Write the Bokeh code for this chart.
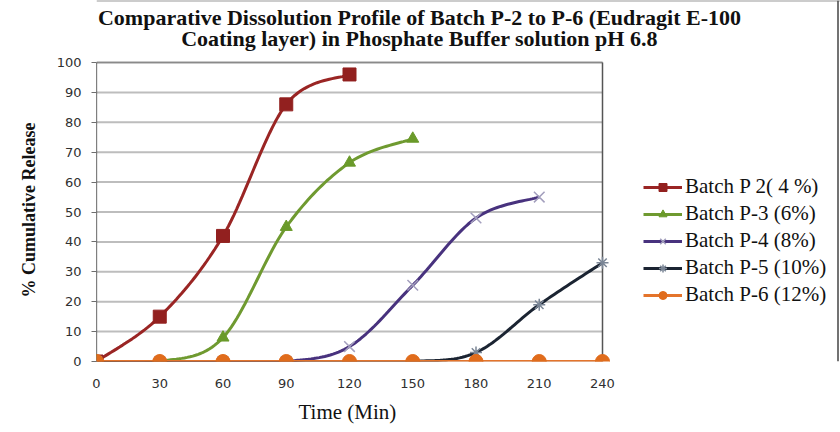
import numpy as np
from bokeh.plotting import figure
from bokeh.models import Legend, LegendItem, FixedTicker, Range1d, Title, Label, Span
from bokeh.embed import file_html
from bokeh.resources import INLINE

# ---- data ----
time = [0, 30, 60, 90, 120, 150, 180, 210, 240]
p2_time = [0, 30, 60, 90, 120]
p2_vals = [0, 15, 42, 86, 96]
p3_time = [0, 30, 60, 90, 120, 150]
p3_vals = [0, 0, 8, 45, 66.5, 74.5]
p4_time = [0, 30, 60, 90, 120, 150, 180, 210]
p4_vals = [0, 0, 0, 0, 5, 25.5, 48, 55]
p5_time = [0, 30, 60, 90, 120, 150, 180, 210, 240]
p5_vals = [0, 0, 0, 0, 0, 0, 3, 19, 33]
p6_time = [0, 30, 60, 90, 120, 150, 180, 210, 240]
p6_vals = [0, 0, 0, 0, 0, 0, 0, 0, 0]
y_ticks = [0, 10, 20, 30, 40, 50, 60, 70, 80, 90, 100]

labels = ["Batch P 2( 4 %)", "Batch P-3 (6%)", "Batch P-4 (8%)",
          "Batch P-5 (10%)", "Batch P-6 (12%)"]
title_1 = "Comparative Dissolution Profile of Batch P-2 to P-6 (Eudragit E-100"
title_2 = "Coating layer) in Phosphate Buffer solution pH 6.8"
x_label = "Time (Min)"
y_label = "% Cumulative Release"


def smooth(xs, ys, n=24):
    """Excel-like smoothed line (cubic Bezier through the points)."""
    pts = np.column_stack([np.asarray(xs, float), np.asarray(ys, float) * 2.4])
    out = []
    m = len(pts)
    for i in range(m - 1):
        q0 = pts[i - 1] if i > 0 else pts[i]
        q1, q2 = pts[i], pts[i + 1]
        q3 = pts[i + 2] if i + 2 < m else pts[i + 1]
        c1 = q1 + (q2 - q0) / 6.0
        c2 = q2 - (q3 - q1) / 6.0
        t = np.linspace(0, 1, n)[:, None]
        seg = ((1 - t) ** 3) * q1 + 3 * ((1 - t) ** 2) * t * c1 + 3 * (1 - t) * t ** 2 * c2 + t ** 3 * q2
        if i > 0:
            seg = seg[1:]
        out.append(seg)
    a = np.vstack(out)
    return a[:, 0], a[:, 1] / 2.4


W, H = 840, 432
PLOT_L, PLOT_R = 96, 602      # pixel extent of the 0..240 axis
PLOT_T, PLOT_B = 62, 361      # pixel extent of the 0..100 axis
# the frame reaches the right and top edges, leaving room for legend and titles
x_end = time[-1] * (W - PLOT_L) / (PLOT_R - PLOT_L)
y_end = y_ticks[-1] * PLOT_B / (PLOT_B - PLOT_T)

p = figure(width=W, height=H, output_backend="svg", toolbar_location=None,
           x_range=Range1d(0, x_end), y_range=Range1d(0, y_end),
           min_border_left=PLOT_L, min_border_right=0, min_border_top=0,
           min_border_bottom=H - PLOT_B)

p.background_fill_color = "white"
p.border_fill_color = "white"
p.outline_line_color = None
p.xgrid.grid_line_color = None
p.ygrid.grid_line_color = None

# picture border (top and right edges)
p.add_layout(Span(location=y_end, dimension="width", line_color="#9a9a9a", line_width=2))
p.add_layout(Span(location=time[-1] * (W - 2.5 - PLOT_L) / (PLOT_R - PLOT_L),
                  dimension="height", line_color="#444444", line_width=1.5))

# horizontal gridlines limited to the plot area, and the plot-area border
n = len(y_ticks)
p.segment(x0=[time[0]] * n, x1=[time[-1]] * n, y0=y_ticks, y1=y_ticks,
          line_color="#bdbdbd", line_width=2)
p.segment(x0=[time[0]], x1=[time[-1]], y0=[y_ticks[-1]], y1=[y_ticks[-1]],
          line_color="#8a8a8a", line_width=1.5)
p.segment(x0=[time[-1]], x1=[time[-1]], y0=[y_ticks[0]], y1=[y_ticks[-1]],
          line_color="#555555", line_width=1.5)
p.segment(x0=[time[0]], x1=[time[0]], y0=[y_ticks[0]], y1=[y_ticks[-1]],
          line_color="black", line_width=1.2)

p.xaxis.ticker = FixedTicker(ticks=time)
p.yaxis.ticker = FixedTicker(ticks=y_ticks)
for ax in (p.xaxis, p.yaxis):
    ax.major_label_text_font = "DejaVu Sans"
    ax.major_label_text_font_size = "13px"
    ax.major_label_text_color = "#303030"
    ax.minor_tick_line_color = None
    ax.axis_line_color = None
p.xaxis.major_tick_line_color = None
p.xaxis.major_label_standoff = 11
p.yaxis.major_tick_line_color = "#6e6e6e"
p.yaxis.major_tick_out = 5
p.yaxis.major_tick_in = 0
p.yaxis.major_label_standoff = 10

series = [
    (p2_time, p2_vals, "#9a2524", "square", "#92201f", 13),
    (p3_time, p3_vals, "#6f9a30", "triangle", "#6a9a2a", 12),
    (p4_time, p4_vals, "#48327e", "x", "#a39fbd", 15),
    (p5_time, p5_vals, "#1b2432", "asterisk", "#7b8696", 12),
    (p6_time, p6_vals, "#e4742b", "circle", "#e06c1c", 14),
]

items = []
for (xs, ys, lc, mk, mc, ms), lab in zip(series, labels):
    sx, sy = smooth(xs, ys)
    r1 = p.line(sx, sy, line_color=lc, line_width=3)
    if mk in ("x", "asterisk"):
        r2 = p.scatter(xs, ys, marker=mk, size=ms, line_color=mc, line_width=1.5)
    else:
        r2 = p.scatter(xs, ys, marker=mk, size=ms, fill_color=mc, line_color=mc)
    items.append(LegendItem(label=lab, renderers=[r1, r2]))

legend = Legend(items=items, location=(547, 54),
                label_text_font="Liberation Serif", label_text_font_size="21px",
                label_text_color="#111111",
                glyph_width=39, glyph_height=20, label_standoff=3, spacing=2,
                padding=0, margin=0, border_line_alpha=0, background_fill_alpha=0)
p.add_layout(legend, "center")

# two-line chart title (screen units from the frame's bottom-left corner)
for txt, ypix in ((title_1, 17), (title_2, 38)):
    p.add_layout(Label(x=419 - PLOT_L, y=PLOT_B - ypix, x_units="screen", y_units="screen",
                       text=txt, text_font="Liberation Serif", text_font_style="bold",
                       text_font_size="22px", text_align="center", text_baseline="middle",
                       text_color="#111111"))

# y-axis title, running upward beside the 0..100 axis
p.add_layout(Title(text=y_label, align="left", offset=64, text_font="Liberation Serif",
                   text_font_size="18px", text_font_style="bold", text_color="#111111",
                   standoff=29), "left")

# x-axis title, placed under the 0..240 axis
p.add_layout(Title(text=x_label, align="left", offset=202, text_font="Liberation Serif",
                   text_font_size="21px", text_font_style="normal", text_color="#111111",
                   standoff=15), "below")

open("out.html", "w").write(file_html(p, INLINE))
